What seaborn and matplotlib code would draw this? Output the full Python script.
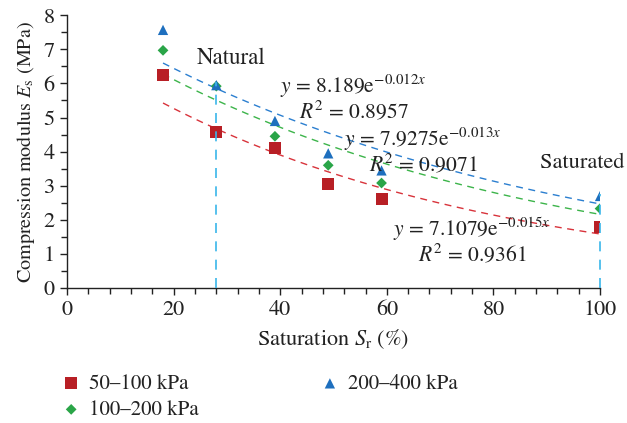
import numpy as np
import pandas as pd
import matplotlib
matplotlib.use("Agg")
import matplotlib.pyplot as plt
import seaborn as sns
from matplotlib.ticker import MultipleLocator

# ---- data ----
saturation = [18, 28, 39, 49, 59, 100]
es_50_100 = [6.25, 4.58, 4.12, 3.05, 2.60, 1.80]
es_100_200 = [6.97, 5.92, 4.45, 3.60, 3.08, 2.33]
es_200_400 = [7.57, 5.95, 4.90, 3.95, 3.45, 2.70]
series_names = ["50\u2013100 kPa", "100\u2013200 kPa", "200\u2013400 kPa"]
fit_a = [7.1079, 7.9275, 8.189]
fit_b = [-0.015, -0.013, -0.012]
fit_labels = [r"$y$ = 7.1079e$^{-0.015x}$" + "\n" + r"$R^2$ = 0.9361",
              r"$y$ = 7.9275e$^{-0.013x}$" + "\n" + r"$R^2$ = 0.9071",
              r"$y$ = 8.189e$^{-0.012x}$" + "\n" + r"$R^2$ = 0.8957"]
x_ticks = [0, 20, 40, 60, 80, 100]
y_ticks = [0, 1, 2, 3, 4, 5, 6, 7, 8]

sns.set_style("ticks")
plt.rcParams["font.family"] = ["STIXGeneral", "DejaVu Serif"]
plt.rcParams["mathtext.fontset"] = "stix"

colors = ["#b81f25", "#2aa548", "#1e6fbe"]
line_colors = ["#d8333b", "#3cb44a", "#2b7fd0"]
markers = ["s", "D", "^"]
sizes = [75, 30, 55]
txt = "#222222"

df = pd.DataFrame({
    "Sr": saturation * 3,
    "Es": es_50_100 + es_100_200 + es_200_400,
    "series": [n for n in series_names for _ in saturation],
})

fig = plt.figure(figsize=(6.27, 4.23), dpi=100)
ax = fig.add_axes([0.107, 0.319, 0.850, 0.645])

# trend lines
xs = np.linspace(saturation[0], saturation[-1], 100)
for a, b, c in zip(fit_a, fit_b, line_colors):
    ax.plot(xs, a * np.exp(b * xs), ls=(0, (5, 4)), color=c, lw=1.0, zorder=2)

for name, c, m, s in zip(series_names, colors, markers, sizes):
    sub = df[df["series"] == name]
    sns.scatterplot(data=sub, x="Sr", y="Es", color=c, marker=m, s=s,
                    edgecolor="none", ax=ax, label=name, zorder=3)

# vertical guide lines (Natural, Saturated)
ax.plot([saturation[1], saturation[1]], [0, es_200_400[1] + 0.1],
        ls=(0, (6, 5)), color="#3ab6ea", lw=1.2, zorder=4)
ax.plot([saturation[-1], saturation[-1]], [0, es_200_400[-1] + 0.05],
        ls=(0, (6, 5)), color="#3ab6ea", lw=1.2, zorder=4, clip_on=False)

ax.text(30.8, 6.74, "Natural", ha="center", va="center", fontsize=16.5, color=txt)
ax.text(104.6, 3.67, "Saturated", ha="right", va="center", fontsize=16,
        color=txt, clip_on=False)

ax.text(76.0, 1.38, fit_labels[0], ha="center", va="center", fontsize=15.5,
        color=txt, linespacing=1.0)
ax.text(66.8, 4.02, fit_labels[1], ha="center", va="center", fontsize=15.5,
        color=txt, linespacing=1.0)
ax.text(53.8, 5.57, fit_labels[2], ha="center", va="center", fontsize=15.5,
        color=txt, linespacing=1.0)

ax.set_xlim(0, 100)
ax.set_ylim(0, 8)
ax.set_xticks(x_ticks)
ax.set_yticks(y_ticks)
ax.xaxis.set_minor_locator(MultipleLocator(4))
ax.yaxis.set_minor_locator(MultipleLocator(0.5))
ax.tick_params(axis="both", which="major", length=5, width=1, color=txt,
               labelsize=16, labelcolor=txt, direction="out", pad=4)
ax.tick_params(axis="both", which="minor", length=4, width=1, color=txt,
               direction="out")
for sp in ["top", "right"]:
    ax.spines[sp].set_visible(False)
for sp in ["left", "bottom"]:
    ax.spines[sp].set_color(txt)
    ax.spines[sp].set_linewidth(1.0)

ax.set_xlabel(r"Saturation $S_\mathrm{r}$ (%)", fontsize=16, color=txt, labelpad=5)
ax.set_ylabel(r"Compression modulus $E_\mathrm{s}$ (MPa)", fontsize=14.5,
              color=txt, labelpad=5)

ax.get_legend().remove()
handles, labels = ax.get_legend_handles_labels()
fig.legend(handles, labels, loc="upper left", bbox_to_anchor=(0.067, 0.16),
           ncol=2, frameon=False, fontsize=15, columnspacing=5.8,
           handletextpad=0.35, labelspacing=0.3, handlelength=1.0,
           labelcolor=txt)

fig.savefig("out.png", dpi=100)
